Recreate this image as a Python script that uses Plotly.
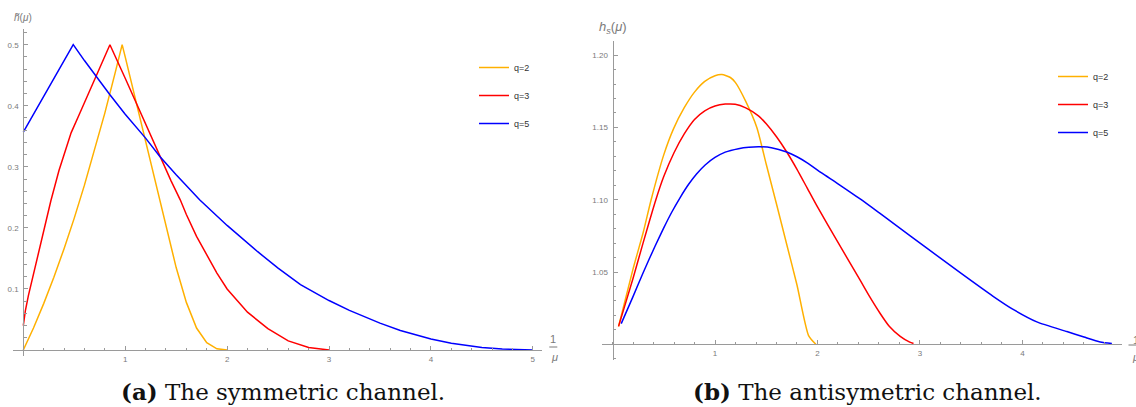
import plotly.graph_objects as go

# ---------------- data: (a) symmetric channel ----------------
x_a_q2 = [0, 0.1, 0.2, 0.3, 0.4, 0.5, 0.6, 0.7, 0.8, 0.9, 0.97, 1.0, 1.1, 1.2, 1.3, 1.4, 1.5,
          1.6, 1.7, 1.8, 1.9, 2.0]
y_a_q2 = [0, 0.036, 0.076, 0.119, 0.166, 0.216, 0.270, 0.327, 0.388, 0.453, 0.50, 0.480, 0.41,
          0.34, 0.27, 0.20, 0.135, 0.078, 0.036, 0.012, 0.002, 0]

x_a_q3 = [0, 0.02, 0.05, 0.1, 0.15, 0.2, 0.27, 0.35, 0.47, 0.55, 0.65, 0.75, 0.85, 1.0, 1.1,
          1.2, 1.34, 1.45, 1.54, 1.6, 1.7, 1.8, 1.9, 2.0, 2.2, 2.4, 2.6, 2.8, 2.95, 3.0]
y_a_q3 = [0.040, 0.064, 0.089, 0.124, 0.160, 0.195, 0.244, 0.294, 0.356, 0.386, 0.424, 0.462,
          0.50, 0.445, 0.407, 0.37, 0.317, 0.277, 0.246, 0.222, 0.186, 0.155, 0.126, 0.10,
          0.062, 0.035, 0.015, 0.004, 0.0003, 0]

x_a_q5 = [0, 0.1, 0.2, 0.3, 0.4, 0.49, 0.6, 0.7, 0.85, 1.0, 1.2, 1.34, 1.5, 1.73, 2.0, 2.3,
          2.5, 2.72, 3.0, 3.2, 3.5, 3.7, 4.0, 4.2, 4.5, 4.7, 4.9, 5.0]
y_a_q5 = [0.357, 0.386, 0.415, 0.444, 0.473, 0.50, 0.474, 0.451, 0.418, 0.386, 0.347, 0.317,
          0.287, 0.246, 0.204, 0.161, 0.134, 0.107, 0.081, 0.065, 0.044, 0.032, 0.018, 0.011,
          0.004, 0.0015, 0.0002, 0]

# ---------------- data: (b) antisymmetric channel ----------------
x_b_q2 = [0.059, 0.2, 0.3, 0.377, 0.5, 0.595, 0.7, 0.8, 0.9, 1.0, 1.067, 1.15, 1.2, 1.3, 1.408,
          1.5, 1.6, 1.7, 1.8, 1.913, 1.984]
y_b_q2 = [1.0124, 1.052, 1.0775, 1.10, 1.131, 1.149, 1.1636, 1.1744, 1.1818, 1.1857, 1.1865,
          1.1845, 1.181, 1.168, 1.15, 1.1245, 1.097, 1.069, 1.041, 1.006, 1.0]

x_b_q3 = [0.059, 0.2, 0.3, 0.423, 0.5, 0.6, 0.7, 0.8, 0.9, 1.0, 1.1, 1.197, 1.3, 1.424, 1.5,
          1.6, 1.7, 1.8, 1.9, 2.0, 2.2, 2.416, 2.5, 2.61, 2.7, 2.807, 2.9, 2.937]
y_b_q3 = [1.0124, 1.0455, 1.0705, 1.10, 1.116, 1.1325, 1.1455, 1.1555, 1.1615, 1.1648, 1.1661,
          1.166, 1.1635, 1.158, 1.1525, 1.1435, 1.133, 1.121, 1.108, 1.095, 1.0705, 1.0443,
          1.034, 1.0215, 1.0125, 1.0055, 1.0015, 1.0005]

x_b_q5 = [0.085, 0.2, 0.3, 0.416, 0.5, 0.579, 0.66, 0.741, 0.82, 0.904, 1.0, 1.1, 1.229, 1.33,
          1.44, 1.55, 1.70, 1.8, 1.9, 2.04, 2.2, 2.416, 2.6, 2.741, 3.067, 3.392, 3.717, 3.9,
          4.14, 4.433, 4.6, 4.758, 4.872]
y_b_q5 = [1.0143, 1.033, 1.0497, 1.068, 1.0805, 1.0915, 1.1015, 1.1105, 1.1178, 1.124, 1.1292,
          1.1329, 1.1353, 1.1363, 1.1366, 1.136, 1.133, 1.1297, 1.1255, 1.1185, 1.111, 1.1005,
          1.091, 1.0836, 1.0665, 1.0495, 1.033, 1.0245, 1.0155, 1.0088, 1.005, 1.0016, 1.0005]

series_names = ["q=2", "q=3", "q=5"]
colors = ["#FFB000", "#FF0000", "#0000FF"]

a_ticks = [0.1, 0.2, 0.3, 0.4, 0.5]
a_ticktext = ["0.1", "0.2", "0.3", "0.4", "0.5"]
b_ticks = [1.05, 1.10, 1.15, 1.20]
b_ticktext = ["1.05", "1.10", "1.15", "1.20"]
xa_ticks = [1, 2, 3, 4, 5]
xb_ticks = [1, 2, 3, 4]

# ---------------- figure ----------------
W, H = 1136, 407


def px(v):
    return v / W


def py(v):
    return 1 - v / H


AX = "#9a9a9a"
TXT = "#7a7a7a"

fig = go.Figure()

for xs, ys, nm, c in zip([x_a_q2, x_a_q3, x_a_q5], [y_a_q2, y_a_q3, y_a_q5], series_names, colors):
    fig.add_trace(go.Scatter(x=xs, y=ys, mode="lines", name=nm, legendgroup="a" + nm,
                             line=dict(color=c, width=1.5), xaxis="x", yaxis="y",
                             legend="legend", hoverinfo="skip"))

for xs, ys, nm, c in zip([x_b_q2, x_b_q3, x_b_q5], [y_b_q2, y_b_q3, y_b_q5], series_names, colors):
    fig.add_trace(go.Scatter(x=xs, y=ys, mode="lines", name=nm, legendgroup="b" + nm,
                             line=dict(color=c, width=1.5, shape="spline", smoothing=0.6),
                             xaxis="x2", yaxis="y2", legend="legend2", hoverinfo="skip"))

common = dict(showgrid=False, zeroline=False, showline=True, linecolor=AX, linewidth=1,
              ticks="inside", ticklen=4, tickcolor=AX, tickwidth=1,
              tickfont=dict(size=8, color=TXT, family="Liberation Sans"))

fig.update_layout(
    width=W, height=H, margin=dict(l=0, r=0, t=0, b=0),
    paper_bgcolor="white", plot_bgcolor="white", showlegend=True,
    xaxis=dict(domain=[px(12.7), px(541.7)], range=[-0.104, 5.087], anchor="free",
               position=py(350), tickmode="array", tickvals=xa_ticks,
               ticklabelstandoff=1,
               minor=dict(tickmode="linear", tick0=0, dtick=0.2, ticks="inside", ticklen=2.5,
                          tickcolor=AX, tickwidth=1),
               **common),
    yaxis=dict(domain=[py(356), py(29)], range=[-0.0098, 0.5257], anchor="free",
               position=px(23.3), tickmode="array", tickvals=a_ticks, ticktext=a_ticktext,
               ticklabelstandoff=3,
               minor=dict(tickmode="linear", tick0=0, dtick=0.02, ticks="inside", ticklen=2.5,
                          tickcolor=AX, tickwidth=1),
               **common),
    xaxis2=dict(domain=[px(601.7), px(1121.7)], range=[-0.1054, 4.968], anchor="free",
                position=py(344.3), tickmode="array", tickvals=xb_ticks,
                ticklabelstandoff=1,
                minor=dict(tickmode="linear", tick0=0, dtick=0.2, ticks="inside", ticklen=2.5,
                           tickcolor=AX, tickwidth=1),
                **common),
    yaxis2=dict(domain=[py(360), py(40.7)], range=[0.98914, 1.20996], anchor="free",
                position=px(612.5), tickmode="array", tickvals=b_ticks, ticktext=b_ticktext,
                ticklabelstandoff=3,
                minor=dict(tickmode="linear", tick0=1.0, dtick=0.01, ticks="inside", ticklen=2.5,
                           tickcolor=AX, tickwidth=1),
                **common),
    legend=dict(x=px(474), y=py(53), xanchor="left", yanchor="top", traceorder="grouped",
                tracegroupgap=9, bgcolor="rgba(0,0,0,0)",
                font=dict(size=9, color="#333333", family="Liberation Sans")),
    legend2=dict(x=px(1053), y=py(62), xanchor="left", yanchor="top", traceorder="grouped",
                 tracegroupgap=9, bgcolor="rgba(0,0,0,0)",
                 font=dict(size=9, color="#333333", family="Liberation Sans")),
)


def label(x, y, text, size, color=TXT, family="Liberation Sans", xanchor="center"):
    return dict(x=px(x), y=py(y), xref="paper", yref="paper", showarrow=False,
                xanchor=xanchor, yanchor="middle", text=text,
                font=dict(size=size, color=color, family=family))


ann = [
    label(23, 17.5, "<i>h̃</i>(<i>μ</i>)", 10),
    label(612.5, 27.5, "<i>h</i><sub><i>s</i></sub>(<i>μ</i>)", 13),
    label(553.3, 339, "1", 11),
    label(554, 356.5, "<i>μ</i>", 11),
    label(1130.5, 339.5, "1", 11, xanchor="left"),
    label(1130, 357, "<i>μ</i>", 11, xanchor="left"),
    label(283, 391, "<b>(a)</b> The symmetric channel.", 23, "#111111", "DejaVu Serif"),
    label(867, 391, "<b>(b)</b> The antisymetric channel.", 23, "#111111", "DejaVu Serif"),
]
fig.update_layout(annotations=ann)

fig.update_layout(shapes=[
    dict(type="line", xref="paper", yref="paper", x0=px(549.3), x1=px(557.3),
         y0=py(347), y1=py(347), line=dict(color=TXT, width=1)),
    dict(type="line", xref="paper", yref="paper", x0=px(1128.5), x1=px(1136),
         y0=py(345), y1=py(345), line=dict(color=TXT, width=1)),
])

fig.write_html("out.html", config={"displayModeBar": False},
               post_script="document.body.style.margin='0';document.body.style.overflow='hidden';")
